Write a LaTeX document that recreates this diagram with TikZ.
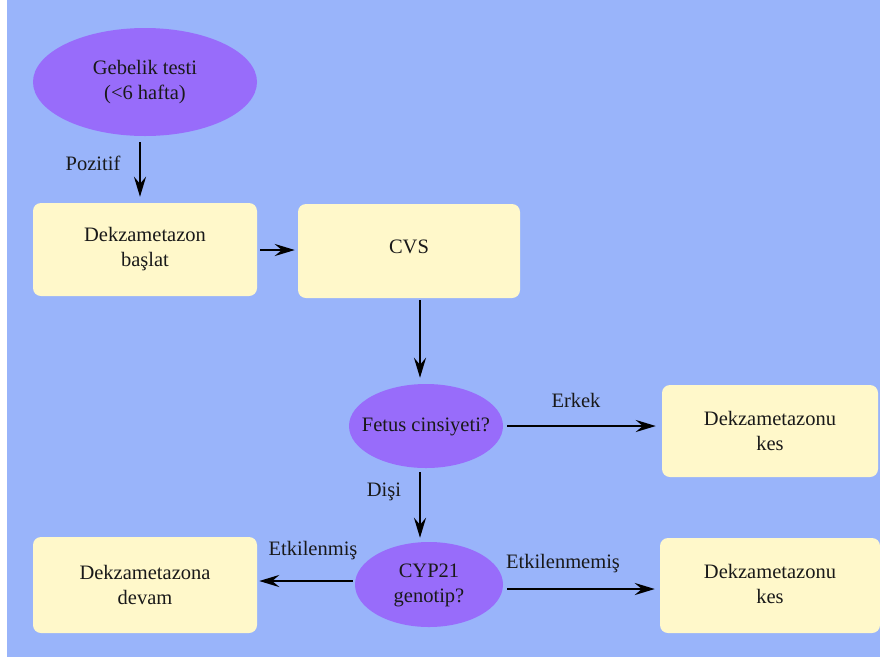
\documentclass[tikz,border=0pt]{standalone}
\usepackage{fontspec}
\setmainfont{Liberation Serif}
\newfontfamily\tnr{Liberation Serif}
\usetikzlibrary{shapes.geometric,arrows.meta}
\definecolor{bgblue}{RGB}{153,180,250}
\definecolor{purp}{RGB}{152,108,250}
\definecolor{boxy}{RGB}{255,248,202}
\newcommand{\ctext}[1]{\makebox[0pt]{\begin{tabular}{@{}c@{}}#1\end{tabular}}}
\tikzset{
  txt/.style={font=\tnr\fontsize{20.5}{25}\selectfont, text=black!90, align=center, inner sep=0pt},
  oval/.style={txt, ellipse, fill=purp, draw=none},
  stepbox/.style={txt, rectangle, rounded corners=8pt, fill=boxy, draw=none},
  arr/.style={-{Stealth[length=20pt,width=12pt,inset=7pt]}, line width=2.8pt, black},
  lbl/.style={txt}
}
\begin{document}
\begin{tikzpicture}[x=1pt,y=-1pt]
\useasboundingbox (0,0) rectangle (880,657);
\fill[white] (0,0) rectangle (880,657);
\fill[bgblue] (7,0) rectangle (880,657);

\node[oval, minimum width=224pt, minimum height=108pt] (g) at (145,82) {\ctext{Gebelik testi\\(<6 hafta)}};
\node[stepbox, minimum width=224pt, minimum height=93pt] (b1) at (145,249.5) {Dekzametazon\\başlat};
\node[stepbox, minimum width=222pt, minimum height=94pt] (cvs) at (409,251) {\raisebox{8pt}{CVS}};
\node[oval, minimum width=154pt, minimum height=84pt] (fe) at (426,426) {\raisebox{6pt}{\ctext{Fetus cinsiyeti?}}};
\node[stepbox, minimum width=216pt, minimum height=92pt] (rb1) at (770,431) {Dekzametazonu\\kes};
\node[oval, minimum width=148pt, minimum height=85pt] (cy) at (429,584.5) {\ctext{CYP21\\genotip?}};
\node[stepbox, minimum width=224pt, minimum height=96pt] (lb) at (145,585) {Dekzametazona\\devam};
\node[stepbox, minimum width=220pt, minimum height=95pt] (rb2) at (770,585.5) {\raisebox{4pt}{\begin{tabular}{@{}c@{}}Dekzametazonu\\kes\end{tabular}}};

\draw[arr, shorten <=6pt, shorten >=6pt] ([xshift=-5pt]g.south) -- ([xshift=-5pt]b1.north);
\draw[arr, shorten <=3pt, shorten >=3pt] ([yshift=-0.5pt]b1.east) -- ([yshift=-0.5pt]b1.east -| cvs.west);
\draw[arr, shorten <=2pt, shorten >=6pt] ([xshift=11pt]cvs.south) -- ([xshift=11pt]cvs.south |- fe.north);
\draw[arr, shorten <=4pt, shorten >=6pt] (fe.east) -- (fe.east -| rb1.west);
\draw[arr, shorten <=4pt, shorten >=4pt] ([xshift=-6pt]fe.south) -- ([xshift=-6pt]fe.south |- cy.north);
\draw[arr, shorten <=2pt, shorten >=2pt] ([yshift=3.5pt]cy.west) -- ([yshift=3.5pt]cy.west -| lb.east);
\draw[arr, shorten <=4pt, shorten >=5pt] ([yshift=-4.5pt]cy.east) -- ([yshift=-4.5pt]cy.east -| rb2.west);

\node[lbl] (l1) at (93,163) {Pozitif};
\node[lbl] (l2) at (576,400) {Erkek};
\node[lbl] (l3) at (384,492) {Dişi};
\node[lbl] (l4) at (313,551) {Etkilenmiş};
\node[lbl] (l5) at (563,564) {Etkilenmemiş};
\end{tikzpicture}
\end{document}
